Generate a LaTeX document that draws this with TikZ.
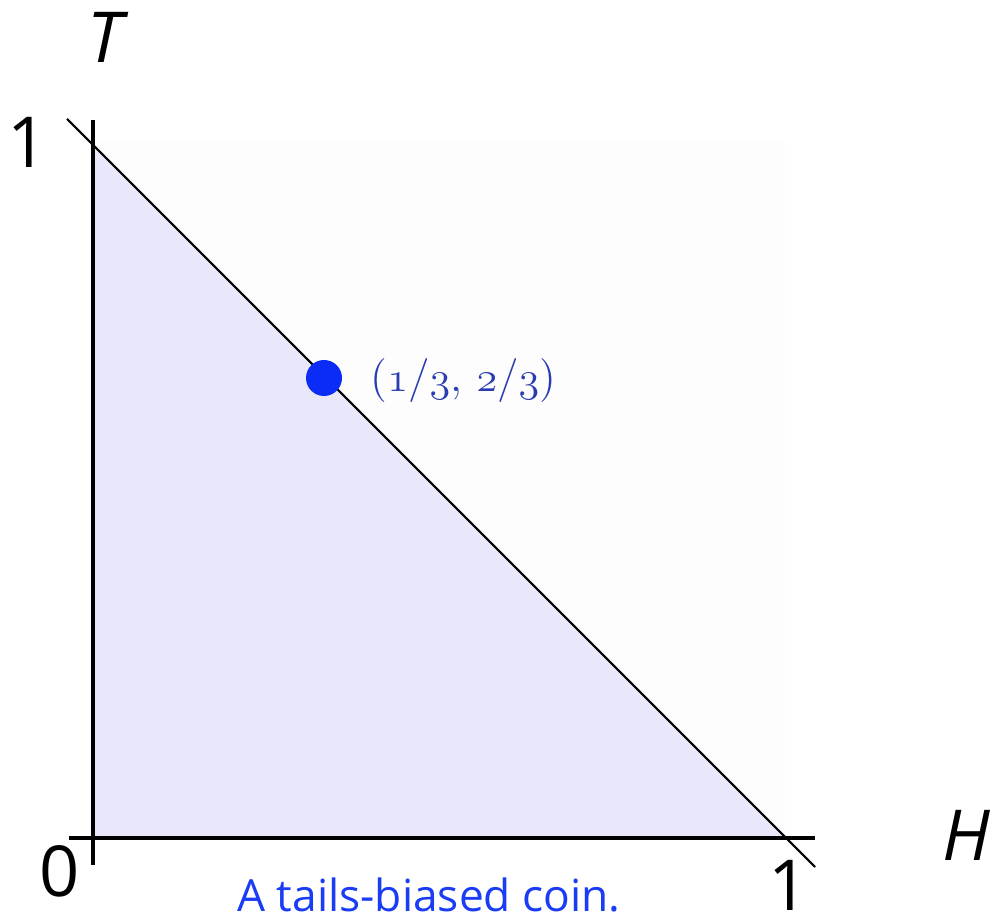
\documentclass[tikz,border=0pt]{standalone}
\usepackage{fontspec}
\setmainfont{Open Sans}
\definecolor{fillc}{HTML}{E8E8FA}
\definecolor{faintc}{HTML}{FDFDFD}
\definecolor{dotc}{HTML}{0A2CF6}
\definecolor{labc}{HTML}{2A3DB0}
\definecolor{capc}{HTML}{1A3CF5}
\newcommand{\osf}[1]{{\usefont{OML}{cmm}{m}{it}#1}}
\newfontfamily\lmr{Latin Modern Roman}
\tikzset{
  axis/.style={line width=1.15pt, black},
  hyp/.style={line width=0.6pt, black},
  biglab/.style={inner sep=0pt, font=\fontsize{20}{24}\selectfont},
}
\begin{document}
\begin{tikzpicture}
\useasboundingbox (0,0) rectangle (9.94,9.19);
\fill[faintc] (0.93,0.81) rectangle (7.85,7.79);
\coordinate (O) at (0.93,0.81);
\coordinate (Tp) at (0.93,7.74);
\coordinate (Hp) at (7.85,0.81);
\fill[fillc] (O) -- (Tp) -- (Hp) -- cycle;
\coordinate (vb) at (0.93,0.54);
\coordinate (vt) at (0.93,7.99);
\coordinate (hl) at (0.69,0.81);
\coordinate (hr) at (8.15,0.81);
\coordinate (da) at (0.67,8.00);
\coordinate (db) at (8.15,0.52);
\draw[hyp] (da) -- (db);
\draw[axis] (vb) -- (vt);
\draw[axis] (hl) -- (hr);
\node[circle, fill=dotc, minimum size=0.36cm, inner sep=0pt] (pt) at (3.24,5.41) {};
\node[anchor=west, inner sep=0pt, text=labc, font=\fontsize{12.5}{14}\selectfont\lmr] (ptlab) at (3.70,5.38)
  {(\osf{1}/\osf{3}, \osf{2}/\osf{3})};
\node[biglab] (tlab) at (1.05,8.82) {\itshape T};
\node[biglab] (one1) at (0.28,7.77) {1};
\node[biglab] (zero) at (0.60,0.48) {0};
\node[biglab] (one2) at (7.89,0.34) {1};
\node[biglab] (hlab) at (9.66,0.84) {\itshape H};
\node[anchor=base, inner sep=0pt, text=capc, font=\fontsize{12.6}{15}\selectfont] (cap) at (4.29,0.07) {A tails-biased coin.};
\end{tikzpicture}
\end{document}
